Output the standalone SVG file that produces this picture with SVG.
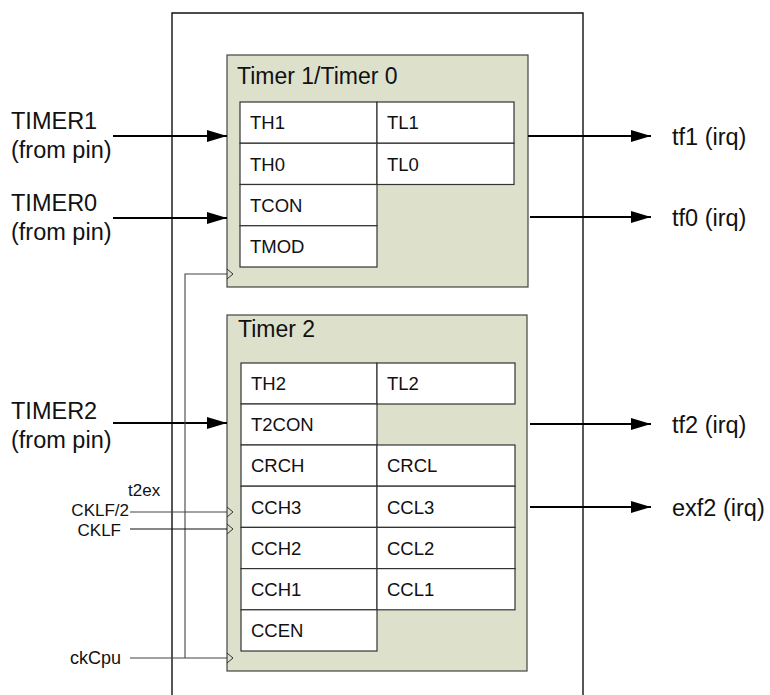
<svg xmlns="http://www.w3.org/2000/svg" width="770" height="695" viewBox="0 0 770 695">
<defs>
<style>
.txt{font-family:"Liberation Sans",Arial,sans-serif;fill:#111}
.lbl{font-size:23.5px}
.title{font-size:23px}
.reg{font-size:18.5px}
.sm{font-size:18px}
.sm2{font-size:17px}
.box{fill:#dde1cc;stroke:#444;stroke-width:1.2}
.cell{fill:#fff;stroke:#333;stroke-width:1.2}
.thick{stroke:#000;stroke-width:2.2;fill:none}
.thin{stroke:#444;stroke-width:1.1;fill:none}
.thinb{stroke:#111;stroke-width:1.1;fill:none}
.chev{stroke:#333;stroke-width:1;fill:none}
</style>
<marker id="ah" markerUnits="userSpaceOnUse" markerWidth="20" markerHeight="14" refX="20" refY="7" orient="auto">
<path d="M0,1 L20,7 L0,13 z" fill="#000"/>
</marker>
</defs>
<rect width="770" height="695" fill="#fff"/>

<g id="outer">
<path d="M172,700 L172,13 L583,13 L583,700" fill="none" stroke="#111" stroke-width="1.4"/>
</g>

<g id="timer10">
<rect class="box" x="227" y="55" width="301" height="232"/>
<text class="txt title" x="237" y="84">Timer 1/Timer 0</text>
<rect class="cell" x="240" y="102" width="137" height="41.25"/>
<rect class="cell" x="377" y="102" width="137" height="41.25"/>
<rect class="cell" x="240" y="143.25" width="137" height="41.25"/>
<rect class="cell" x="377" y="143.25" width="137" height="41.25"/>
<rect class="cell" x="240" y="184.5" width="137" height="41.25"/>
<rect class="cell" x="240" y="225.75" width="137" height="41.25"/>
<text class="txt reg" x="250" y="129">TH1</text>
<text class="txt reg" x="387" y="129">TL1</text>
<text class="txt reg" x="250" y="170.5">TH0</text>
<text class="txt reg" x="387" y="170.5">TL0</text>
<text class="txt reg" x="250" y="211.5">TCON</text>
<text class="txt reg" x="250" y="253">TMOD</text>
</g>

<g id="timer2">
<rect class="box" x="227" y="315" width="300" height="356"/>
<text class="txt title" x="238" y="337">Timer 2</text>
<rect class="cell" x="241" y="363" width="136" height="41"/>
<rect class="cell" x="377" y="363" width="138" height="41"/>
<rect class="cell" x="241" y="404" width="136" height="41"/>
<rect class="cell" x="241" y="445" width="136" height="41.2"/>
<rect class="cell" x="377" y="445" width="138" height="41.2"/>
<rect class="cell" x="241" y="486.2" width="136" height="41.2"/>
<rect class="cell" x="377" y="486.2" width="138" height="41.2"/>
<rect class="cell" x="241" y="527.4" width="136" height="41.2"/>
<rect class="cell" x="377" y="527.4" width="138" height="41.2"/>
<rect class="cell" x="241" y="568.6" width="136" height="41.2"/>
<rect class="cell" x="377" y="568.6" width="138" height="41.2"/>
<rect class="cell" x="241" y="609.8" width="136" height="41.2"/>
<text class="txt reg" x="251" y="390">TH2</text>
<text class="txt reg" x="387" y="390">TL2</text>
<text class="txt reg" x="251" y="431">T2CON</text>
<text class="txt reg" x="251" y="472">CRCH</text>
<text class="txt reg" x="387" y="472">CRCL</text>
<text class="txt reg" x="251" y="513.5">CCH3</text>
<text class="txt reg" x="387" y="513.5">CCL3</text>
<text class="txt reg" x="251" y="554.5">CCH2</text>
<text class="txt reg" x="387" y="554.5">CCL2</text>
<text class="txt reg" x="251" y="595.5">CCH1</text>
<text class="txt reg" x="387" y="595.5">CCL1</text>
<text class="txt reg" x="251" y="637">CCEN</text>
</g>

<g id="labels">
<text class="txt lbl" x="11" y="129">TIMER1</text>
<text class="txt lbl" x="11" y="158">(from pin)</text>
<text class="txt lbl" x="11" y="211">TIMER0</text>
<text class="txt lbl" x="11" y="240">(from pin)</text>
<text class="txt lbl" x="11" y="419">TIMER2</text>
<text class="txt lbl" x="11" y="448">(from pin)</text>
<text class="txt sm2" x="128" y="496">t2ex</text>
<text class="txt sm2" x="129" y="516" text-anchor="end">CKLF/2</text>
<text class="txt sm2" x="121" y="536" text-anchor="end">CKLF</text>
<text class="txt sm" x="121" y="664" text-anchor="end">ckCpu</text>
<text class="txt lbl" x="672" y="145">tf1 (irq)</text>
<text class="txt lbl" x="672" y="226">tf0 (irq)</text>
<text class="txt lbl" x="672" y="433">tf2 (irq)</text>
<text class="txt lbl" x="672" y="516">exf2 (irq)</text>
</g>

<g id="connectors">
<line class="thick" x1="113" y1="136" x2="227" y2="136" marker-end="url(#ah)"/>
<line class="thick" x1="113" y1="218" x2="227" y2="218" marker-end="url(#ah)"/>
<line class="thick" x1="113" y1="423" x2="227" y2="423" marker-end="url(#ah)"/>
<line class="thick" x1="528" y1="136" x2="651" y2="136" marker-end="url(#ah)"/>
<line class="thick" x1="530" y1="217" x2="651" y2="217" marker-end="url(#ah)"/>
<line class="thick" x1="530" y1="424" x2="651" y2="424" marker-end="url(#ah)"/>
<line class="thick" x1="530" y1="507" x2="651" y2="507" marker-end="url(#ah)"/>
<path class="thin" d="M130,658 L227,658 M185,658 L185,274 L227,274"/>
<path class="thin" d="M130,512 L227,512"/>
<path class="thinb" d="M130,529 L227,529"/>
<path class="chev" d="M227,269 L233,274 L227,279"/>
<path class="chev" d="M227,507 L233,512 L227,517"/>
<path class="chev" d="M227,524 L233,529 L227,534"/>
<path class="chev" d="M227,653 L233,658 L227,663"/>
</g>
</svg>
